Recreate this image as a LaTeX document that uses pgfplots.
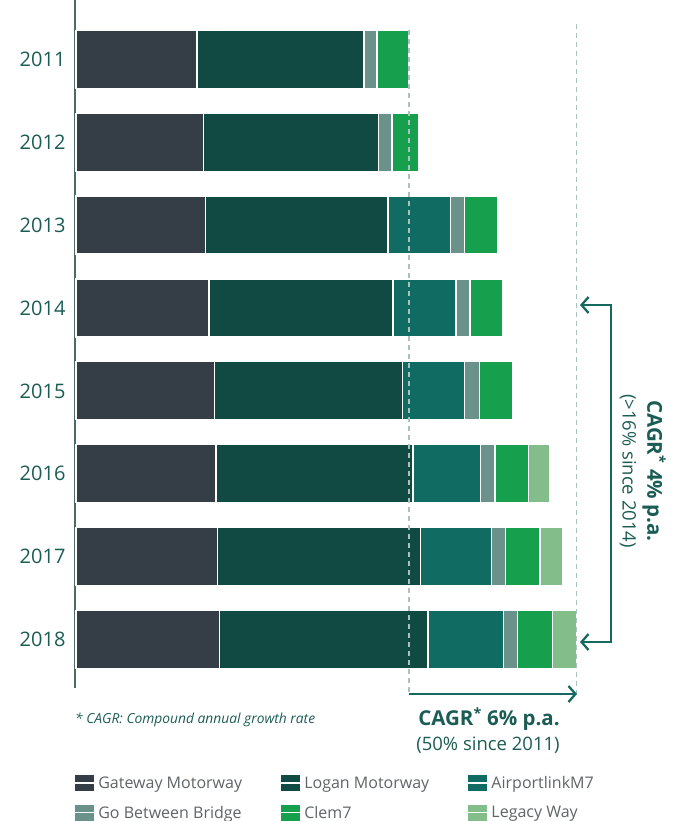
\documentclass[border=0pt]{standalone}
\usepackage{pgfplots}
\pgfplotsset{compat=1.18}
\usepackage{pgfplotstable}
\usepackage{fontspec}
\setmainfont{Open Sans}
\usetikzlibrary{arrows.meta}
\definecolor{cGate}{HTML}{353D47}
\definecolor{cLogan}{HTML}{114A43}
\definecolor{cAir}{HTML}{106B62}
\definecolor{cGo}{HTML}{6A928B}
\definecolor{cClem}{HTML}{16A04E}
\definecolor{cLeg}{HTML}{83BD8A}
\definecolor{cText}{HTML}{1B5C54}
\definecolor{cArrow}{HTML}{16695F}
\definecolor{cAxis}{HTML}{4B6B66}
\definecolor{cDash}{HTML}{A9C2BD}
\definecolor{cLegText}{HTML}{5F6468}
\pgfplotstableread{
y G L A B C W
0 121 167 0 13 32 0
1 127.5 175 0 13.5 26.5 0
2 129.5 182.5 62.5 14 33 0
3 133 184 63 14 33 0
4 138.5 188 62 15 33 0
5 140 197 67.5 14.5 33.5 21.5
6 141.5 203 71 14 34.5 22.5
7 143.5 208.5 75.5 14 35 24
}\data
\begin{document}
\begin{tikzpicture}
\path[use as bounding box] (0pt,0pt) rectangle (677pt,-821pt);
\begin{axis}[
  at={(75pt,0pt)}, anchor=north west,
  scale only axis, width=526pt, height=688pt,
  xmin=-1, xmax=525,
  ymin=-0.715, ymax=7.584, y dir=reverse,
  xbar stacked, bar width=58pt,
  axis x line=none,
  axis y line*=left,
  y axis line style={line width=2pt, color=cAxis},
  ytick={0,...,7},
  yticklabels={2011,2012,2013,2014,2015,2016,2017,2018},
  major tick length=0pt,
  yticklabel style={font=\fontsize{20}{24}\selectfont, text=cText, xshift=-6pt},
  clip=false,
  every axis plot/.append style={draw=white, line width=1.2pt},
  legend image code/.code={\path[#1,draw=none] (0pt,-8pt) rectangle (19pt,8pt); \path (0pt,0pt) -- (21pt,0pt);},
  legend style={draw=none, fill=none, inner sep=0pt,
    at={(-0.002,-0.125)}, anchor=north west,
    font=\fontsize{16}{19}\selectfont, text=cLegText,
    /tikz/every even column/.append style={column sep=36pt},
    row sep=12pt},
  legend columns=3,
  legend cell align=left,
]
\addplot[fill=cGate] table[x=G,y=y]{\data};
\addplot[fill=cLogan] table[x=L,y=y]{\data};
\addplot[fill=cAir] table[x=A,y=y]{\data};
\addplot[fill=cGo] table[x=B,y=y]{\data};
\addplot[fill=cClem] table[x=C,y=y]{\data};
\addplot[fill=cLeg] table[x=W,y=y]{\data};
\legend{Gateway Motorway, Logan Motorway, AirportlinkM7, Go Between Bridge, Clem7, Legacy Way}
\end{axis}
% dashed reference lines
\draw[cDash, line width=1.3pt, dash pattern=on 5pt off 4pt] (409pt,-30pt) -- (409pt,-694pt);
\draw[cDash, line width=1.3pt, dash pattern=on 5pt off 4pt] (576.5pt,-24pt) -- (576.5pt,-694pt);
% horizontal arrow
\draw[cArrow, line width=2.3pt, -{Straight Barb[length=7pt,width=16pt]}] (409pt,-694pt) -- (577pt,-694pt);
% bracket arrow
\draw[cArrow, line width=2.3pt, {Straight Barb[length=7pt,width=16pt]}-{Straight Barb[length=7pt,width=16pt]}] (580pt,-305pt) -- (611pt,-305pt) -- (611pt,-642pt) -- (580pt,-642pt);
% texts
\node[text=cText, font=\fontsize{20.5}{24}\selectfont\bfseries] at (489pt,-719pt) {CAGR\textsuperscript{*} 6\% p.a.};
\node[text=cText, font=\fontsize{18.5}{22}\selectfont] at (488pt,-745pt) {(50\% since 2011)};
\node[text=cText, font=\fontsize{20.5}{24}\selectfont\bfseries, rotate=-90] at (654pt,-471pt) {CAGR\textsuperscript{*} 4\% p.a.};
\node[text=cText, font=\fontsize{18.5}{22}\selectfont, rotate=-90] at (628pt,-471pt) {(>16\% since 2014)};
\node[text=cText, font=\fontsize{13.8}{17}\selectfont\itshape, anchor=west, inner sep=0pt] at (75pt,-720pt) {* CAGR: Compound annual growth rate};
\end{tikzpicture}
\end{document}
